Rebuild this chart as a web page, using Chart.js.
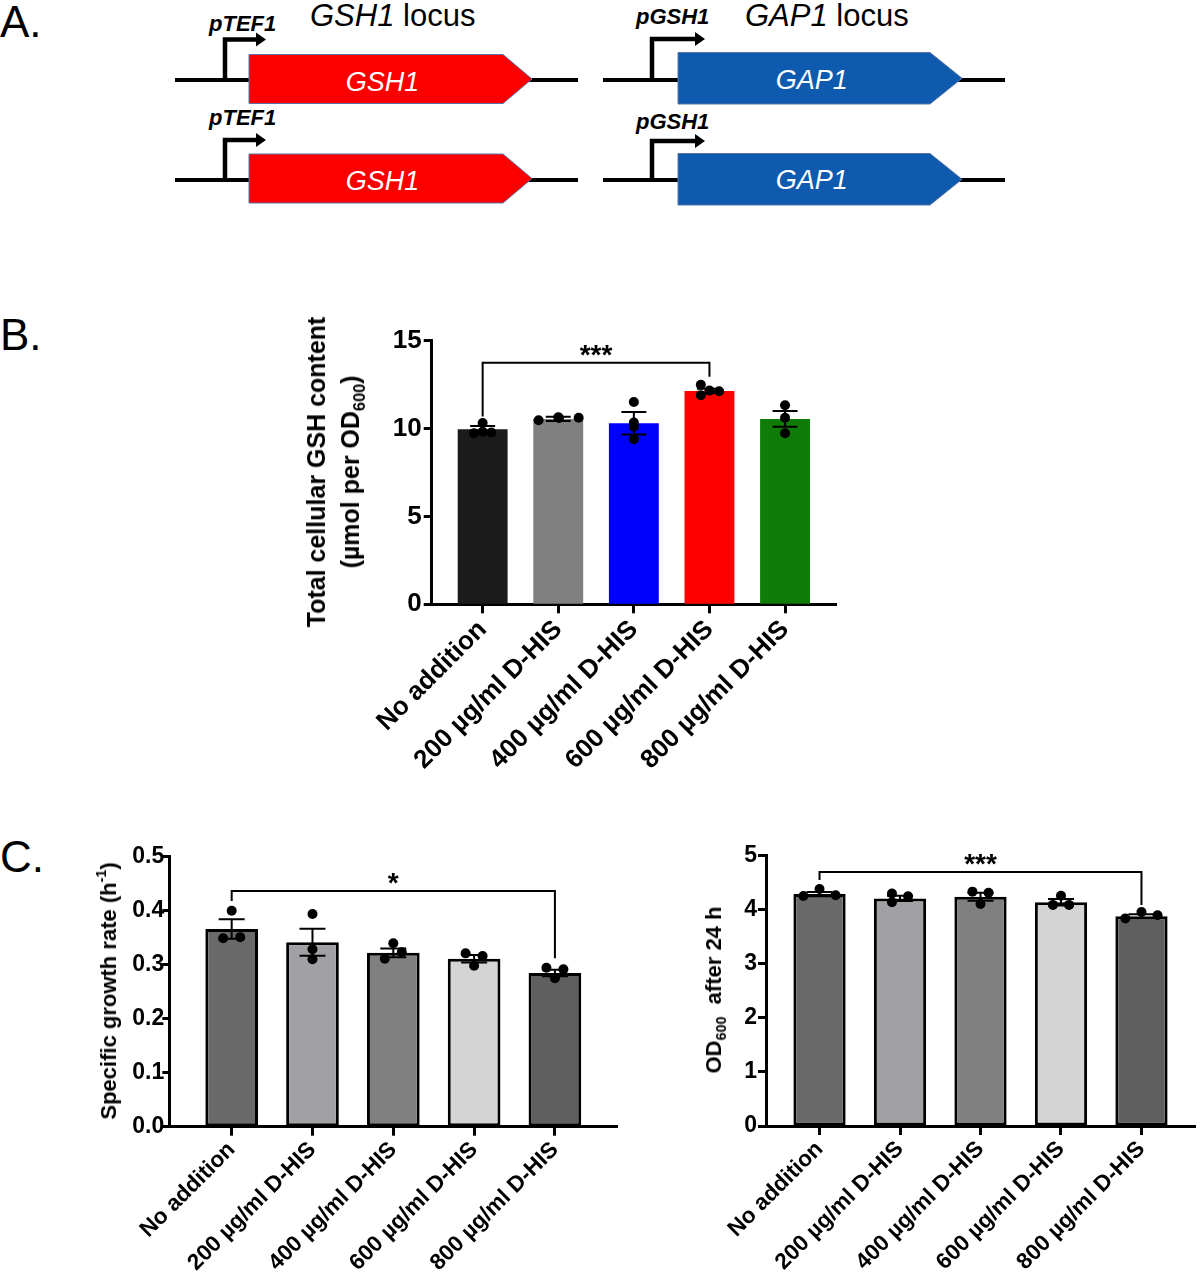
<!DOCTYPE html>
<html>
<head>
<meta charset="utf-8">
<script src="https://cdn.jsdelivr.net/npm/chart.js@4.4.1/dist/chart.umd.min.js"></script>
<style>
  body { margin: 0; background: #fff; }
  #page { position: relative; width: 1200px; height: 1274px; overflow: hidden; font-family: "Liberation Sans", Arial, Helvetica, sans-serif; color: #000; }
  canvas { position: absolute; }
  .ytitle { position: absolute; transform: translate(-50%, -50%) rotate(-90deg); white-space: nowrap; text-align: center; font-weight: bold; color: #000; }
  .ytitle sub { font-size: 65%; vertical-align: -0.35em; line-height: 0; }
  .ytitle sup { font-size: 65%; vertical-align: 0.7em; line-height: 0; }
</style>
</head>
<body>
<div id="page">
  <svg id="diagram" width="1200" height="1274" style="position:absolute;left:0;top:0"></svg>
  <canvas id="chartB" width="580" height="480" style="left:280px;top:320px;width:580px;height:480px"></canvas>
  <canvas id="chartC1" width="510" height="434" style="left:120px;top:840px;width:510px;height:434px"></canvas>
  <canvas id="chartC2" width="480" height="434" style="left:720px;top:840px;width:480px;height:434px"></canvas>
  <div class="ytitle" style="left:333px;top:472px;font-size:25px;line-height:34px">Total cellular GSH content<br>(µmol per OD<sub>600</sub>)</div>
  <div class="ytitle" style="left:109px;top:991px;font-size:22px;line-height:26px">Specific growth rate (h<sup>-1</sup>)</div>
  <div class="ytitle" style="left:714px;top:990px;font-size:22px;line-height:26px">OD<sub>600</sub>&nbsp; after 24 h</div>
</div>
<script>
// ---------------- DATA ----------------
const categories = ['No addition', '200 µg/ml D-HIS', '400 µg/ml D-HIS', '600 µg/ml D-HIS', '800 µg/ml D-HIS'];

// Panel B: total cellular GSH content (µmol per OD600)
const gshMean = [9.96, 10.55, 10.30, 12.14, 10.55];
const gshSem = [0.19, 0.12, 0.64, 0.12, 0.45];
const gshPoints = [
  [10.32, 9.74, 9.82, 9.77],
  [10.47, 10.64, 10.60, 10.62],
  [11.51, 10.34, 10.11, 9.39],
  [12.49, 11.90, 12.16, 12.12],
  [11.33, 10.62, 9.73]
];
const gshTicks = [0, 5, 10, 15];
const gshSig = { from: 0, to: 3, y: 13.75, leftEnd: 10.68, rightEnd: 12.95, label: '***' };

// Panel C left: specific growth rate (h-1)
const muMean = [0.366, 0.3415, 0.322, 0.311, 0.2846];
const muSem = [0.018, 0.025, 0.008, 0.007, 0.006];
const muPoints = [
  [0.400, 0.349, 0.351],
  [0.394, 0.3285, 0.310],
  [0.3396, 0.311, 0.323],
  [0.321, 0.298, 0.316],
  [0.2944, 0.2748, 0.2914]
];
const muTicks = [0, 0.1, 0.2, 0.3, 0.4, 0.5];
const muSig = { from: 0, to: 4, y: 0.4365, leftEnd: 0.418, rightEnd: 0.312, label: '*' };

// Panel C right: OD600 after 24 h
const odMean = [4.29, 4.21, 4.24, 4.14, 3.88];
const odSem = [0.04, 0.05, 0.075, 0.06, 0.035];
const odPoints = [
  [4.255, 4.385, 4.27],
  [4.30, 4.14, 4.25],
  [4.335, 4.315, 4.105],
  [4.09, 4.26, 4.09],
  [3.84, 3.96, 3.90]
];
const odTicks = [0, 1, 2, 3, 4, 5];
const odSig = { from: 0, to: 4, y: 4.70, leftEnd: 4.55, rightEnd: 4.09, label: '***' };

// ---------------- LAYOUT / STYLE ----------------
// horizontal scatter of replicate dots within each bar (category units)
const gshJitter = [[0, -0.115, 0, 0.115], [-0.26, 0, 0.01, 0.27], [0, 0, 0, 0], [-0.114, -0.114, 0, 0.128], [0, 0, 0]];
const muJitter = [[0, -0.105, 0.105], [0, 0, 0], [0, -0.105, 0.105], [-0.105, 0, 0.105], [-0.105, 0, 0.105]];
const odJitter = [[-0.2, 0, 0.2], [-0.1, -0.1, 0.1], [-0.1, 0.1, 0], [-0.1, 0, 0.1], [-0.2, 0, 0.2]];

const FONT = '"Liberation Sans", Arial, Helvetica, sans-serif';
const NS = 'http://www.w3.org/2000/svg';

// ---------------- PANEL A DIAGRAM (SVG) ----------------
const svg = document.getElementById('diagram');
function el(tag, attrs, text) {
  const e = document.createElementNS(NS, tag);
  for (const k in attrs) e.setAttribute(k, attrs[k]);
  if (text !== undefined) e.textContent = text;
  svg.appendChild(e);
  return e;
}
function panelLetter(t, y) { el('text', { x: 0, y: y, 'font-size': 44, 'font-family': FONT }, t); }
panelLetter('A.', 37); panelLetter('B.', 350); panelLetter('C.', 872);

function locusTitle(x, gene) {
  const t = el('text', { x: x, y: 26, 'font-size': 31, 'font-family': FONT });
  const a = document.createElementNS(NS, 'tspan'); a.setAttribute('font-style', 'italic'); a.textContent = gene;
  const b = document.createElementNS(NS, 'tspan'); b.textContent = ' locus';
  t.appendChild(a); t.appendChild(b);
}
locusTitle(310, 'GSH1');
locusTitle(745, 'GAP1');

function geneRow(g, r) {
  el('line', { x1: g.bbL, x2: g.bbR, y1: r.bb, y2: r.bb, stroke: '#000', 'stroke-width': 4 });
  const mid = (r.top + r.bot) / 2;
  el('polygon', { points: `${g.boxL},${r.top} ${g.boxR},${r.top} ${g.tip},${mid} ${g.boxR},${r.bot} ${g.boxL},${r.bot}`, fill: g.color, stroke: '#5a74a8', 'stroke-width': 1 });
  el('path', { d: `M${g.prom},${r.bb} V${r.arr} H${g.arrTip - 9}`, fill: 'none', stroke: '#000', 'stroke-width': 4.5 });
  el('polygon', { points: `${g.arrTip - 10},${r.arr - 7} ${g.arrTip},${r.arr} ${g.arrTip - 10},${r.arr + 7}`, fill: '#000' });
  el('text', { x: g.labX, y: r.lab, 'font-size': 22, 'font-weight': 'bold', 'font-style': 'italic', 'font-family': FONT }, g.promoter);
  el('text', { x: g.textX, y: r.txt, 'font-size': 27, 'font-style': 'italic', 'text-anchor': 'middle', fill: '#fff', 'font-family': FONT }, g.gene);
}
const leftLocus = { bbL: 175, bbR: 578, boxL: 249, boxR: 503, tip: 532, prom: 225, arrTip: 266, labX: 209, textX: 382.5, color: '#fc0000', promoter: 'pTEF1', gene: 'GSH1' };
const rightLocus = { bbL: 603, bbR: 1005, boxL: 678, boxR: 930, tip: 962, prom: 652, arrTip: 705, labX: 636, textX: 811.7, color: '#0e5aae', promoter: 'pGSH1', gene: 'GAP1' };
geneRow(leftLocus, { bb: 80, top: 54.5, bot: 103.5, arr: 39.5, lab: 31, txt: 90.5 });
geneRow(leftLocus, { bb: 180, top: 154, bot: 203, arr: 140, lab: 124.5, txt: 190 });
geneRow(rightLocus, { bb: 80, top: 52.5, bot: 104, arr: 39, lab: 24, txt: 89 });
geneRow(rightLocus, { bb: 180, top: 153.5, bot: 205, arr: 141, lab: 128.5, txt: 189.3 });

// ---------------- CHARTS ----------------
function errPlugin(means, sem, cap) {
  return {
    id: 'errBars',
    afterDatasetDraw(chart, args) {
      if (args.meta.type !== 'bar') return;
      const ctx = chart.ctx, xs = chart.scales.x, ys = chart.scales.y;
      ctx.save();
      ctx.strokeStyle = '#000'; ctx.lineWidth = 2;
      means.forEach((m, i) => {
        const x = xs.getPixelForValue(i);
        const yt = ys.getPixelForValue(m + sem[i]);
        const yb = ys.getPixelForValue(m - sem[i]);
        ctx.beginPath();
        ctx.moveTo(x, yt); ctx.lineTo(x, yb);
        ctx.moveTo(x - cap, yt); ctx.lineTo(x + cap, yt);
        ctx.moveTo(x - cap, yb); ctx.lineTo(x + cap, yb);
        ctx.stroke();
      });
      ctx.restore();
    }
  };
}
function bracketPlugin(sig, fontSize) {
  return {
    id: 'sigBracket',
    afterDatasetsDraw(chart) {
      const ctx = chart.ctx, xs = chart.scales.x, ys = chart.scales.y;
      const x1 = xs.getPixelForValue(sig.from), x2 = xs.getPixelForValue(sig.to);
      const y = ys.getPixelForValue(sig.y);
      ctx.save();
      ctx.strokeStyle = '#000'; ctx.lineWidth = 2;
      ctx.beginPath();
      ctx.moveTo(x1, ys.getPixelForValue(sig.leftEnd));
      ctx.lineTo(x1, y); ctx.lineTo(x2, y);
      ctx.lineTo(x2, ys.getPixelForValue(sig.rightEnd));
      ctx.stroke();
      ctx.fillStyle = '#000';
      ctx.font = `bold ${fontSize}px ${FONT}`;
      ctx.textAlign = 'center'; ctx.textBaseline = 'alphabetic';
      ctx.fillText(sig.label, (x1 + x2) / 2, y + 1);
      ctx.restore();
    }
  };
}

function makeChart(id, c) {
  const bars = c.means.map((v, i) => ({ x: i, y: v }));
  const dots = [];
  c.points.forEach((arr, i) => arr.forEach((v, j) => dots.push({ x: i + c.jitter[i][j], y: v })));
  return new Chart(document.getElementById(id), {
    type: 'bar',
    data: {
      datasets: [
        { type: 'bar', data: bars, backgroundColor: c.colors, borderColor: c.borderColor || c.colors,
          borderWidth: c.borderWidth, borderSkipped: false, barPercentage: c.barPct, categoryPercentage: 1, order: 2 },
        { type: 'scatter', data: dots, pointRadius: c.r, pointBackgroundColor: '#000', pointBorderWidth: 0, pointHoverRadius: c.r, order: 1 }
      ]
    },
    options: {
      responsive: false, animation: false, devicePixelRatio: 1,
      layout: { padding: { top: c.padTop, right: c.padRight, left: 0, bottom: 0 } },
      plugins: { legend: { display: false }, tooltip: { enabled: false } },
      scales: {
        x: {
          type: 'linear', min: c.xMin, max: c.xMax, offset: false, z: 1,
          grid: { display: true, offset: false, drawOnChartArea: false, drawTicks: true, tickLength: 9, tickWidth: 3, tickColor: '#000', color: '#000' },
          border: { display: true, color: '#000', width: 3 },
          ticks: { stepSize: 1, includeBounds: false, autoSkip: false, maxRotation: 45, minRotation: 45, color: '#000', padding: c.xPad,
                   font: { family: FONT, size: c.xFont, weight: 'bold' },
                   callback: v => (Number.isInteger(v) && categories[v] !== undefined) ? categories[v] : '' },
          afterFit: s => { s.height = c.xH; }
        },
        y: {
          min: c.ticks[0], max: c.ticks[c.ticks.length - 1],
          grid: { display: true, drawOnChartArea: false, drawTicks: true, tickLength: c.yTickLen, tickWidth: 3, tickColor: '#000', color: '#000' },
          border: { display: true, color: '#000', width: 3 },
          afterBuildTicks: s => { s.ticks = c.ticks.map(v => ({ value: v })); },
          ticks: { color: '#000', padding: c.yPad, font: { family: FONT, size: c.yFont, weight: 'bold' },
                   callback: v => v.toFixed(c.dec) },
          afterFit: s => { s.width = c.yW; }
        }
      }
    },
    plugins: [errPlugin(c.means, c.sem, c.cap), bracketPlugin(c.sig, c.starFont)]
  });
}

makeChart('chartB', {
  means: gshMean, sem: gshSem, points: gshPoints, jitter: gshJitter, ticks: gshTicks, sig: gshSig, dec: 0,
  colors: ['#1b1b1b', '#808080', '#0000ff', '#ff0000', '#107c08'], borderWidth: 0, barPct: 0.66,
  xMin: -0.674, xMax: 4.674, padTop: 20.7, padRight: 24, yW: 151.7, xH: 195.7,
  xFont: 26, yFont: 26, xPad: 1, yPad: 2, yTickLen: 8, r: 5, cap: 12.5, starFont: 28
});
makeChart('chartC1', {
  means: muMean, sem: muSem, points: muPoints, jitter: muJitter, ticks: muTicks, sig: muSig, dec: 1,
  colors: ['#6a6a6a', '#a1a1a5', '#808080', '#d4d4d4', '#5f5f5f'], borderColor: '#000', borderWidth: 3, barPct: 0.652,
  xMin: -0.772, xMax: 4.772, padTop: 16.7, padRight: 12.7, yW: 49.3, xH: 147.3,
  xFont: 22.5, yFont: 23, xPad: 1, yPad: -2, yTickLen: 7, r: 5, cap: 13, starFont: 28
});
makeChart('chartC2', {
  means: odMean, sem: odSem, points: odPoints, jitter: odJitter, ticks: odTicks, sig: odSig, dec: 0,
  colors: ['#6a6a6a', '#a1a1a5', '#808080', '#d4d4d4', '#5f5f5f'], borderColor: '#000', borderWidth: 3, barPct: 0.649,
  xMin: -0.665, xMax: 4.665, padTop: 15.7, padRight: 1, yW: 46, xH: 148,
  xFont: 22.5, yFont: 23, xPad: 1, yPad: 1, yTickLen: 8, r: 5, cap: 13, starFont: 28
});
</script>
</body>
</html>
